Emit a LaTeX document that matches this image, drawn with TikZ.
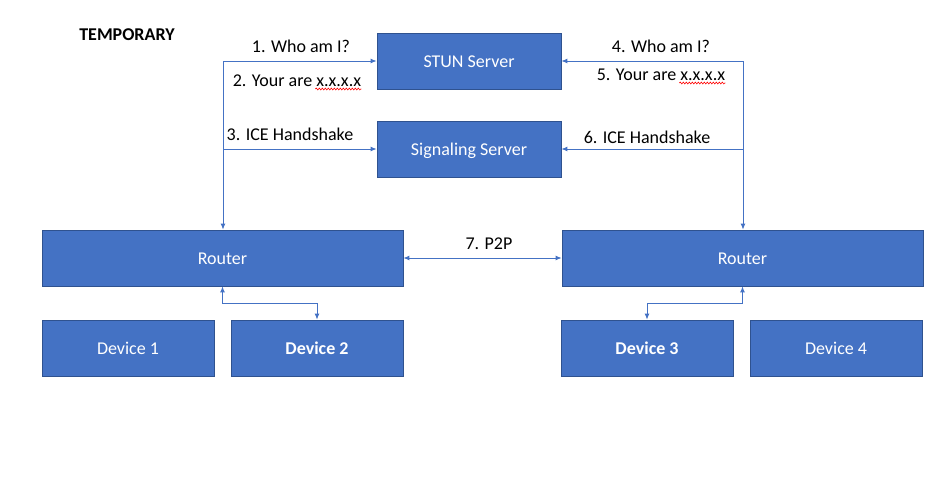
\documentclass[tikz,border=0pt]{standalone}
\usepackage{fontspec}
\setmainfont{Carlito}
\usetikzlibrary{arrows.meta,decorations.pathmorphing}
\definecolor{boxblue}{HTML}{4472C4}
\definecolor{boxline}{HTML}{2F528F}
\begin{document}
\begin{tikzpicture}
[
 x=1pt, y=-1pt,
 font=\fontsize{18}{21}\selectfont,
 BX/.style={rectangle, draw=boxline, fill=boxblue, thick, text=white, inner sep=0pt, text height=13pt, text depth=0.5pt},
 SRV/.style={BX, minimum width=184pt, minimum height=56pt},
 RTR/.style={BX, minimum width=361pt, minimum height=56pt},
 DEV/.style={BX, minimum width=172pt, minimum height=56pt},
 LAB/.style={inner sep=0pt, anchor=base},
 LN/.style={draw=boxblue, line width=0.9pt, -{Latex[length=6pt,width=5pt]}},
 LN2/.style={LN, {Latex[length=6pt,width=5pt]}-{Latex[length=6pt,width=5pt]}},
 spell/.style={draw=red, line width=0.6pt, decorate, decoration={snake, segment length=3pt, amplitude=0.9pt}}
 ],
 %
\useasboundingbox (0,0) rectangle (936,480);
%
\node [LAB, font=\fontsize{18}{21}\selectfont\bfseries] (tmp) at (127, 40) {TEMPORARY};
%
\node [SRV]  (stun)  at ( 469, 61)  {STUN Server};
\node [SRV]  (sig)   at ( 469, 149) {Signaling Server};
\node [RTR]  (rl)    at ( 222.5, 258) {Router};
\node [RTR]  (rr)    at ( 742.5, 258) {Router};
\node [DEV]  (d1)    at ( 128, 348) {Device 1};
\node [DEV]  (d2)    at ( 317, 348) {\bfseries Device 2};
\node [DEV]  (d3)    at ( 647, 348) {\bfseries Device 3};
\node [DEV]  (d4)    at ( 836, 348) {Device 4};
%
\coordinate (LT) at (223, 61);
\coordinate (LS) at (223, 149);
\coordinate (RT) at (743, 61);
\coordinate (RS) at (743, 149);
%
\node [LAB]  (lab1)  at ( 301, 52)  {1. Who am I?};
\node [LAB]  (lab2)  at ( 297, 86)  {2. Your are x.x.x.x};
\node [LAB]  (lab3)  at ( 290, 140) {3. ICE Handshake};
\node [LAB]  (lab4)  at ( 661, 52)  {4. Who am I?};
\node [LAB]  (lab5)  at ( 661, 80)  {5. Your are x.x.x.x};
\node [LAB]  (lab6)  at ( 647, 143) {6. ICE Handshake};
\node [LAB]  (lab7)  at ( 489, 249) {7. P2P};
%
\draw [spell] ([xshift=-46pt,yshift=-3pt]lab2.base east) -- ([xshift=0pt,yshift=-3pt]lab2.base east);
\draw [spell] ([xshift=-46pt,yshift=-3pt]lab5.base east) -- ([xshift=0pt,yshift=-3pt]lab5.base east);
%
\draw [LN]  (LT) -- (stun.west);
\draw [LN]  (LS) -- (sig.west);
\draw [LN]  (LT) -- (LT |- rl.north);
\draw [LN]  (RT) -- (stun.east);
\draw [LN]  (RS) -- (sig.east);
\draw [LN]  (RT) -- (RT |- rr.north);
%
\draw [LN2] (rl.east) -- (rr.west);
\draw [LN2] (rl.south) -- ++(0,17) -| (d2.north);
\draw [LN2] (rr.south) -- ++(0,17) -| (d3.north);
%
\end{tikzpicture}
\end{document}
